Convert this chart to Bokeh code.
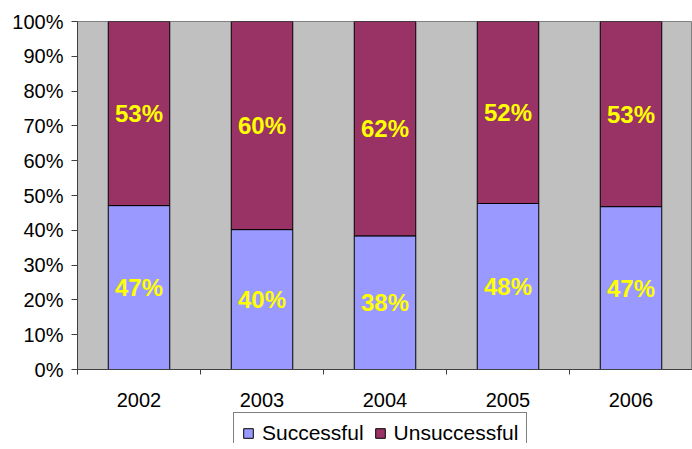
from bokeh.plotting import figure
from bokeh.layouts import column
from bokeh.models import Range1d, FixedTicker, PrintfTickFormatter, Legend, LegendItem, ColumnDataSource
from bokeh.core.properties import value
from bokeh.embed import file_html
from bokeh.resources import INLINE

years = ["2002", "2003", "2004", "2005", "2006"]
successful = [47.1, 40.2, 38.4, 47.7, 46.8]
unsuccessful = [100 - s for s in successful]
y_ticks = [0, 10, 20, 30, 40, 50, 60, 70, 80, 90, 100]
series_names = ["Successful", "Unsuccessful"]
series_colors = ["#9999FF", "#993366"]

FONT = "Liberation Sans"
centers = [i + 0.5 for i in range(len(years))]
bounds = [i for i in range(len(years) + 1)]

src = ColumnDataSource(dict(
    x=centers,
    successful=successful,
    unsuccessful=unsuccessful,
    s_mid=[s / 2 for s in successful],
    u_mid=[s + u / 2 for s, u in zip(successful, unsuccessful)],
    s_lbl=["%d%%" % round(s) for s in successful],
    u_lbl=["%d%%" % round(u) for u in unsuccessful],
))

p = figure(frame_width=615, frame_height=348, output_backend="svg", toolbar_location=None,
           x_range=Range1d(0, len(years)), y_range=Range1d(0, 100))
p.min_border_left = 77
p.min_border_top = 21
p.min_border_right = 0
p.min_border_bottom = 0
p.background_fill_color = "#C0C0C0"
p.border_fill_color = "white"
p.outline_line_color = "#808080"
p.grid.visible = False

r = p.vbar_stack(["successful", "unsuccessful"], x="x", width=0.5, source=src,
                 color=series_colors, line_color="black", line_width=1)

for col_y, col_t in [("s_mid", "s_lbl"), ("u_mid", "u_lbl")]:
    p.text(x="x", y=col_y, text=col_t, source=src, text_align="center",
           text_baseline="middle", text_color="#FFFF00",
           text_font=value(FONT), text_font_style="bold", text_font_size="24px")

# axes
p.yaxis.ticker = FixedTicker(ticks=y_ticks)
p.yaxis.formatter = PrintfTickFormatter(format="%d%%")
p.yaxis.major_label_text_font = FONT
p.yaxis.major_label_text_font_size = "20px"
p.yaxis.major_label_text_color = "black"
p.yaxis.major_tick_out = 6
p.yaxis.major_tick_in = 0
p.yaxis.minor_tick_line_color = None
p.yaxis.axis_line_color = "#404040"
p.yaxis.major_tick_line_color = "#404040"
p.yaxis.major_label_standoff = 8

p.xaxis.ticker = FixedTicker(ticks=centers, minor_ticks=bounds)
p.xaxis.major_label_overrides = {c: y for c, y in zip(centers, years)}
p.xaxis.major_label_text_font = FONT
p.xaxis.major_label_text_font_size = "20px"
p.xaxis.major_label_text_color = "black"
p.xaxis.major_tick_out = 0
p.xaxis.major_tick_in = 0
p.xaxis.minor_tick_out = 5
p.xaxis.minor_tick_in = 0
p.xaxis.minor_tick_line_color = "#404040"
p.xaxis.axis_line_color = "#404040"
p.xaxis.major_label_standoff = 18

# legend strip (separate figure so the legend sits below the axis)
p2 = figure(frame_width=615, frame_height=34, output_backend="svg", toolbar_location=None,
            x_range=Range1d(0, len(years)), y_range=Range1d(1000, 1001))
p2.min_border_left = 77
p2.min_border_right = 0
p2.min_border_top = 0
p2.min_border_bottom = 0
p2.axis.visible = False
p2.grid.visible = False
p2.outline_line_color = None
p2.background_fill_color = "white"
p2.border_fill_color = "white"
r2 = p2.vbar_stack(["successful", "unsuccessful"], x="x", width=0.5, source=src,
                   color=series_colors, line_color="black", line_width=1)
items = [LegendItem(label=name, renderers=[rr]) for name, rr in zip(series_names, r2)]

legend = Legend(items=items, orientation="horizontal", location=(156, -11))
legend.label_text_font = FONT
legend.label_text_font_size = "21px"
legend.label_text_color = "black"
legend.border_line_color = "black"
legend.border_line_width = 1
legend.glyph_width = 12
legend.glyph_height = 12
legend.label_standoff = 8
legend.spacing = 10
legend.padding = 8
legend.margin = 0
legend.background_fill_color = "white"
legend.background_fill_alpha = 1
p2.add_layout(legend)

layout = column(p, p2, spacing=0)
open("out.html", "w").write(file_html(layout, INLINE))
